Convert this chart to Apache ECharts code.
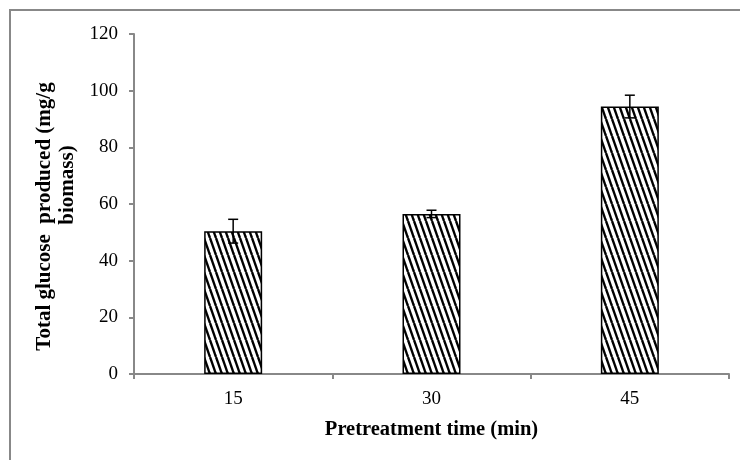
<!DOCTYPE html>
<html>
<head>
<meta charset="utf-8">
<script src="https://cdn.jsdelivr.net/npm/echarts@6/dist/echarts.min.js"></script>
<style>
  html, body { margin: 0; padding: 0; background: #fff; }
  #chart { width: 740px; height: 460px; }
</style>
</head>
<body>
<div id="chart"></div>
<script>
// data
var categories = ['15', '30', '45'];
var glucose = [50.4, 56.5, 94.4];
var errors = [4.2, 1.3, 4.0];
var yTicks = [0, 20, 40, 60, 80, 100, 120];

// diagonal hatch tile, stripes running "\"
function hatch() {
    var w = 6, h = 17;
    var c = document.createElement('canvas');
    c.width = w; c.height = h;
    var ctx = c.getContext('2d');
    ctx.fillStyle = '#fff';
    ctx.fillRect(0, 0, w, h);
    ctx.strokeStyle = '#000';
    ctx.lineWidth = 2.4;
    for (var k = -1; k <= 1; k++) {
        ctx.beginPath();
        ctx.moveTo(k * w, 0);
        ctx.lineTo(k * w + w, h);
        ctx.stroke();
    }
    return c;
}

var errData = categories.map(function (c, i) {
    return [i, glucose[i] - errors[i], glucose[i] + errors[i]];
});

var axisGray = '#888888';
var font = '"Liberation Serif", "Times New Roman", serif';

var chart = echarts.init(document.getElementById('chart'));
chart.setOption({
    animation: false,
    backgroundColor: '#fff',
    textStyle: { fontFamily: font },
    grid: { left: 134, right: 11, top: 34, bottom: 86 },
    graphic: [{
        type: 'rect',
        shape: { x: 10, y: 10, width: 800, height: 500 },
        style: { fill: 'none', stroke: axisGray, lineWidth: 2 },
        silent: true
    }],
    xAxis: {
        type: 'category',
        data: categories,
        name: 'Pretreatment time (min)',
        nameLocation: 'middle',
        nameGap: 45,
        nameTextStyle: { fontSize: 20.5, fontWeight: 'bold', color: '#000', fontFamily: font },
        axisLine: { lineStyle: { color: axisGray, width: 2 } },
        axisTick: { show: true, length: 5, lineStyle: { color: axisGray, width: 2 } },
        axisLabel: { fontSize: 19, color: '#000', margin: 16, fontFamily: font },
        splitLine: { show: false }
    },
    yAxis: {
        type: 'value',
        min: yTicks[0],
        max: yTicks[yTicks.length - 1],
        interval: 20,
        name: 'Total glucose  produced (mg/g            \nbiomass)',
        nameLocation: 'middle',
        nameRotate: 90,
        nameGap: 47,
        nameTextStyle: {
            fontSize: 21, fontWeight: 'bold', color: '#000', lineHeight: 23,
            fontFamily: font, padding: [0, 0, 0, 38]
        },
        axisLine: { show: true, lineStyle: { color: axisGray, width: 2 } },
        axisTick: { show: true, length: 5, lineStyle: { color: axisGray, width: 2 } },
        axisLabel: { fontSize: 19, color: '#000', margin: 16, fontFamily: font },
        splitLine: { show: false }
    },
    series: [{
        type: 'bar',
        data: glucose,
        barWidth: 58,
        itemStyle: {
            color: { image: hatch(), repeat: 'repeat' },
            borderColor: '#000',
            borderWidth: 1.5
        }
    }, {
        type: 'custom',
        data: errData,
        z: 10,
        renderItem: function (params, api) {
            var x = api.value(0);
            var lo = api.coord([x, api.value(1)]);
            var hi = api.coord([x, api.value(2)]);
            var cap = 5;
            var st = { stroke: '#000', lineWidth: 1.5 };
            return {
                type: 'group',
                children: [
                    { type: 'line', shape: { x1: hi[0], y1: hi[1], x2: lo[0], y2: lo[1] }, style: st },
                    { type: 'line', shape: { x1: hi[0] - cap, y1: hi[1], x2: hi[0] + cap, y2: hi[1] }, style: st },
                    { type: 'line', shape: { x1: lo[0] - cap, y1: lo[1], x2: lo[0] + cap, y2: lo[1] }, style: st }
                ]
            };
        }
    }]
});
</script>
</body>
</html>
